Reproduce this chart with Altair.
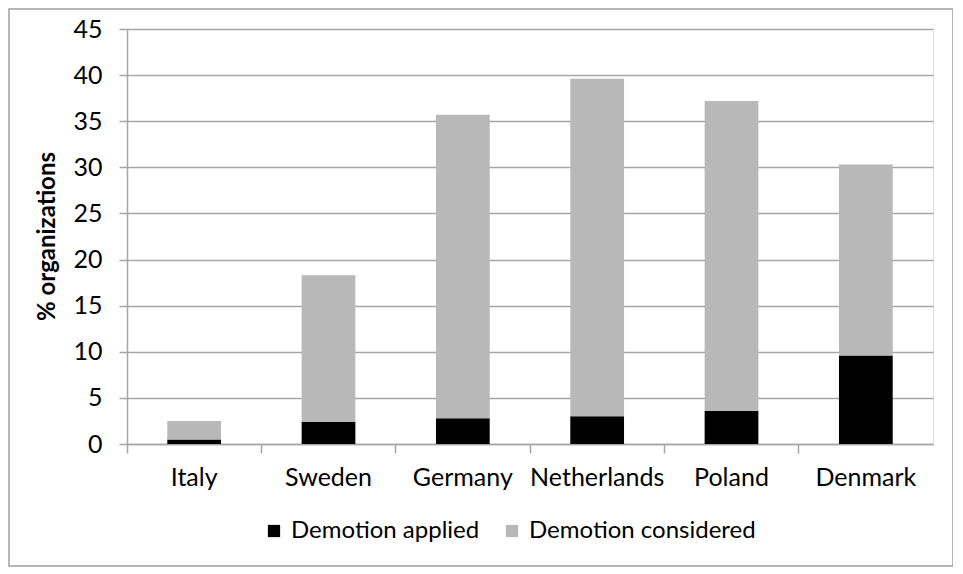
import altair as alt
import pandas as pd

countries = ["Italy", "Sweden", "Germany", "Netherlands", "Poland", "Denmark"]
applied = [0.5, 2.4, 2.8, 3.0, 3.6, 9.6]
total = [2.5, 18.3, 35.7, 39.6, 37.2, 30.3]
series = ["Demotion applied", "Demotion considered"]
y_ticks = [0, 5, 10, 15, 20, 25, 30, 35, 40, 45]

rows = []
for c, a, t in zip(countries, applied, total):
    rows.append({"country": c, "series": series[0], "value": a, "ord": 0})
    rows.append({"country": c, "series": series[1], "value": round(t - a, 2), "ord": 1})
df = pd.DataFrame(rows)

FONT = "Lato"
GRID = "#a6a6a6"
FS = 25

bars = alt.Chart(df).mark_bar(width=alt.RelativeBandSize(0.4)).encode(
    x=alt.X("country:N", sort=countries,
            scale=alt.Scale(paddingInner=0, paddingOuter=0),
            axis=alt.Axis(title=None, labelAngle=0, bandPosition=0,
                          tickSize=9, tickColor=GRID, tickWidth=1.5,
                          domainColor=GRID, domainWidth=1.5,
                          labelPadding=12, labelFontSize=FS, labelFont=FONT,
                          labelColor="black", grid=False)),
    y=alt.Y("value:Q", stack="zero",
            scale=alt.Scale(domain=[0, 45], nice=False),
            axis=alt.Axis(title="% organizations", values=y_ticks,
                          tickSize=8, tickColor=GRID, tickWidth=1.5,
                          domainColor=GRID, domainWidth=1.5,
                          gridColor=GRID, gridWidth=1.5,
                          labelPadding=17, labelFontSize=FS, labelFont=FONT,
                          labelColor="black",
                          titleFont=FONT, titleFontSize=24, titleFontWeight="bold",
                          titleColor="black", titleX=-80, titleY=207,
                          titleBaseline="middle", titleAlign="center", titleAngle=270)),
    color=alt.Color("series:N", sort=series,
                    scale=alt.Scale(domain=series, range=["#000000", "#b8b8b8"]),
                    legend=alt.Legend(title=None, orient="none", direction="horizontal",
                                      legendX=135, legendY=490,
                                      symbolType="square", symbolSize=150,
                                      symbolStrokeWidth=0, labelFontSize=24,
                                      labelFont=FONT, labelColor="black",
                                      labelLimit=0, labelOffset=5, columnPadding=20)),
    order=alt.Order("ord:Q"),
)

frame = alt.Chart(pd.DataFrame({"f": [0]})).mark_rect(
    fill=None, stroke="#a0a0a0", strokeWidth=1.5
).encode(
    x=alt.value(-118), x2=alt.value(826),
    y=alt.value(-20), y2=alt.value(537),
)

chart = alt.layer(bars, frame).properties(
    width=806, height=415,
    autosize=alt.AutoSizeParams(type="none"),
    padding={"left": 119, "top": 21, "right": 20, "bottom": 130},
).configure_view(stroke=None).configure(background="white")

chart.save("out.html", embed_options={"renderer": "svg", "actions": False})
